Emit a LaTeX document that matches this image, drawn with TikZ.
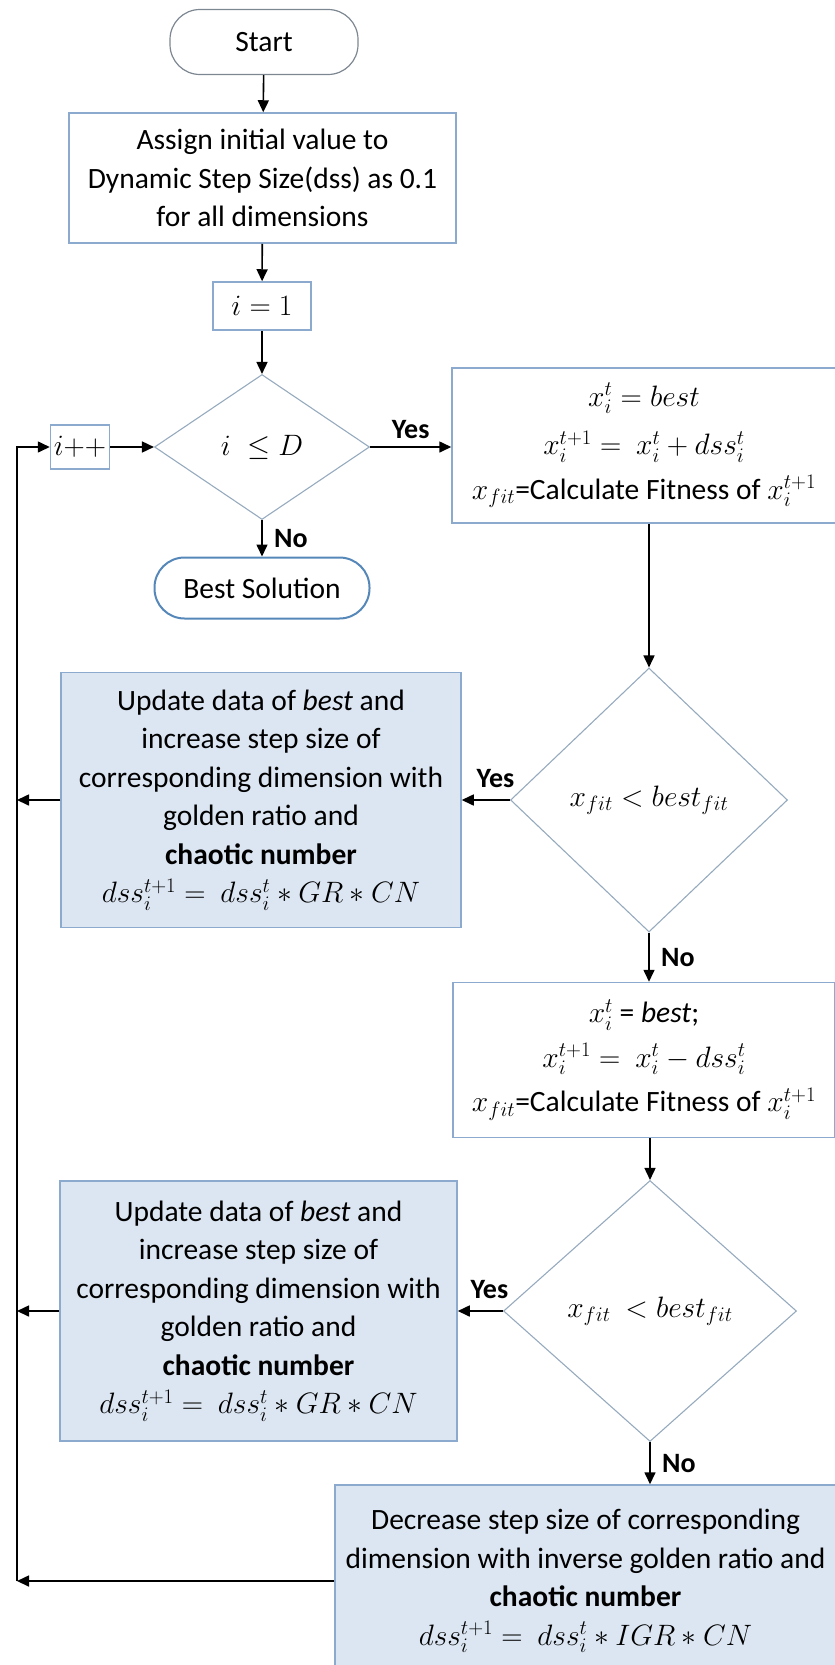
\documentclass[tikz,border=0pt]{standalone}
\usepackage{fix-cm}
\usepackage{fontspec}
\setmainfont{Carlito}
\usepackage{tikz}
\usetikzlibrary{shapes.geometric,arrows.meta}

\definecolor{boxline}{RGB}{140,170,205}
\definecolor{boxfill}{RGB}{220,230,242}
\definecolor{dialine}{RGB}{150,170,190}
\definecolor{termline}{RGB}{125,135,145}
\definecolor{endline}{RGB}{85,135,185}

\tikzset{
  txt/.style={font=\fontsize{29.5}{38.5}\selectfont, align=center},
  term/.style={txt, draw=termline, line width=1.2pt, rounded corners=30pt, inner sep=0pt},
  proc/.style={txt, draw=boxline, line width=1.5pt, inner sep=0pt},
  procfill/.style={proc, fill=boxfill},
  decide/.style={txt, diamond, draw=dialine, line width=1.1pt, inner sep=0pt},
  yn/.style={font=\fontsize{28}{32}\selectfont\bfseries},
  flow/.style={-{Triangle[length=12pt,width=11pt]}, line width=1.6pt}
}

\begin{document}
\begin{tikzpicture}[x=1pt,y=-1pt]
\useasboundingbox (0,0) rectangle (835,1665);
\clip (0,0) rectangle (835,1665);

\node[term, minimum width=188pt, minimum height=65pt] (start) at (264,42) {Start};
\node[proc, minimum width=387pt, minimum height=130pt] (assign) at (262.5,178) {Assign initial value to\\Dynamic Step Size(dss) as 0.1\\for all dimensions};
\node[proc, minimum width=98pt, minimum height=48pt] (init) at (262,306) {$i=1$};
\node[decide, minimum width=215pt, minimum height=145pt] (cond) at (262,447) {$i\;\leq D$};
\node[proc, minimum width=59pt, minimum height=44pt] (inc) at (80,447) {$i{+}{+}$};
\node[term, draw=endline, line width=2pt, minimum width=215pt, minimum height=61pt] (best) at (262,588) {Best Solution};

\node[proc, minimum width=384pt, minimum height=155pt] (fwd) at (644,445.5) {$x_i^t = best$\\[10pt]$x_i^{t+1} = \ x_i^t + dss_i^t$\\[6pt]$x_{fit}$=Calculate Fitness of $x_i^{t+1}$};
\node[decide, minimum width=277pt, minimum height=264pt] (fitA) at (649,800) {$x_{fit} < best_{fit}$};
\node[procfill, minimum width=400pt, minimum height=255pt] (upd1) at (261,800) {Update data of \textit{best} and\\increase step size of\\corresponding dimension with\\golden ratio and\\\textbf{chaotic number}\\$dss_i^{t+1} = \ dss_i^t * GR * CN$};

\node[proc, minimum width=382pt, minimum height=155pt] (bwd) at (644,1060) {$x_i^t$ = \textit{best};\\[6pt]$x_i^{t+1} = \ x_i^t - dss_i^t$\\[6pt]$x_{fit}$=Calculate Fitness of $x_i^{t+1}$};
\node[decide, minimum width=293pt, minimum height=261pt] (fitB) at (650,1311) {$x_{fit}\ < best_{fit}$};
\node[procfill, minimum width=397pt, minimum height=260pt] (upd2) at (258.5,1311) {Update data of \textit{best} and\\increase step size of\\corresponding dimension with\\golden ratio and\\\textbf{chaotic number}\\$dss_i^{t+1} = \ dss_i^t * GR * CN$};
\node[procfill, minimum width=501pt, minimum height=192pt] (dec) at (585.5,1581) {Decrease step size of corresponding\\dimension with inverse golden ratio and\\\textbf{chaotic number}\\$dss_i^{t+1} = \ dss_i^t * IGR * CN$};

\coordinate (railtop) at (17,447);
\coordinate (railbot) at (17,1581);

\draw[flow] (start) -- (assign);
\draw[flow] (assign) -- (init);
\draw[flow] (init) -- (cond);
\draw[flow] (inc) -- (cond);
\draw[flow] (cond.east) -- node[yn, above=4pt]{Yes} (cond.east -| fwd.west);
\draw[flow] (cond) -- node[yn, right=8pt]{No} (best);
\draw[flow] (fitA.north |- fwd.south) -- (fitA.north);
\draw[flow] (fitA.west) -- node[yn, above=8pt, pos=0.3]{Yes} (fitA.west -| upd1.east);
\draw[flow] (fitA.south) -- node[yn, right=8pt]{No} (fitA.south |- bwd.north);
\draw[flow] (fitB.north |- bwd.south) -- (fitB.north);
\draw[flow] (fitB.west) -- node[yn, above=8pt, pos=0.3]{Yes} (fitB.west -| upd2.east);
\draw[flow] (fitB.south) -- node[yn, right=8pt]{No} (fitB.south |- dec.north);
\draw[flow] (upd1.west) -- (upd1.west -| railtop);
\draw[flow] (upd2.west) -- (upd2.west -| railtop);
\draw[flow] (dec.west) -- (railbot);
\draw[flow] (railbot) -- (railtop) -- (inc.west);
\end{tikzpicture}
\end{document}
